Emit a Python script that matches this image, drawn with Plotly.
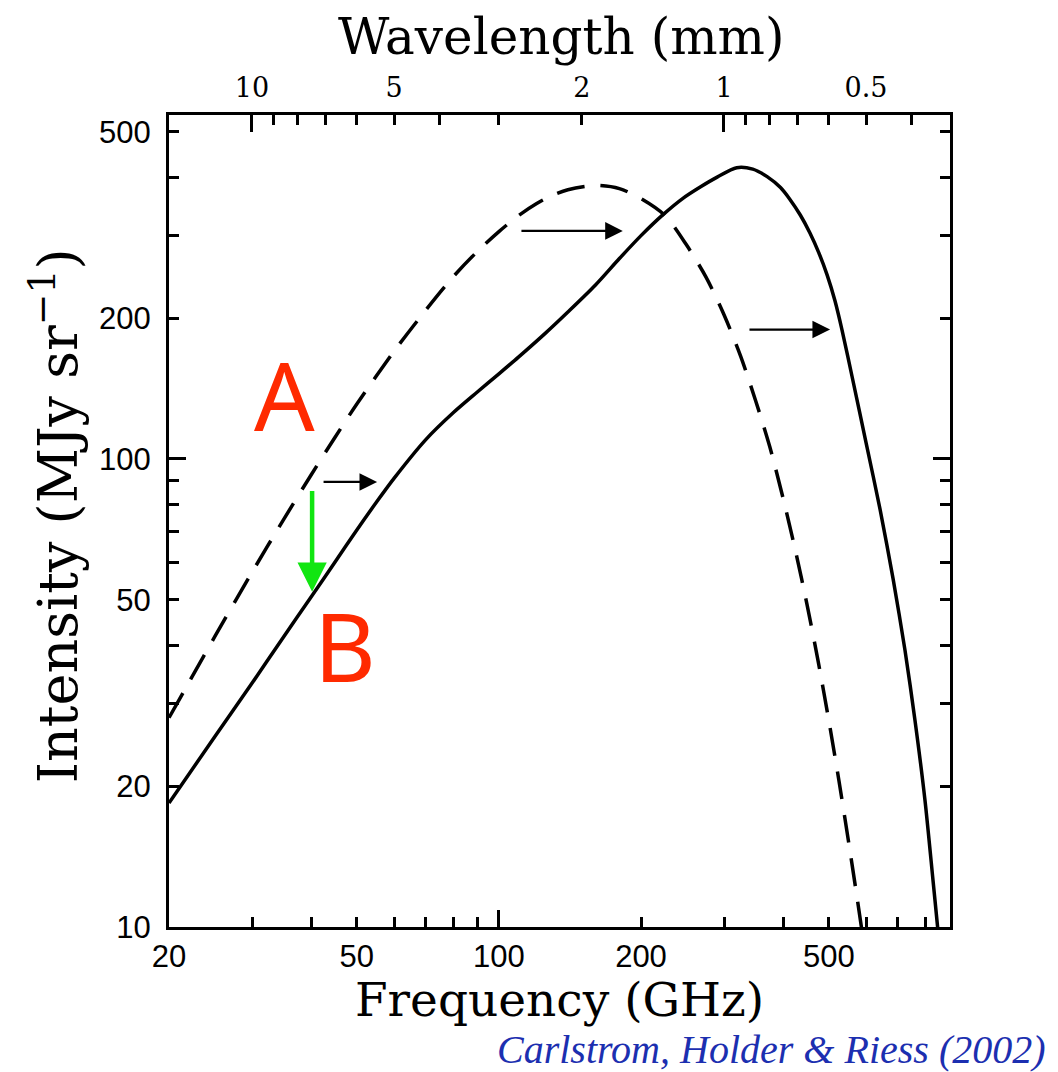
import math
import plotly.graph_objects as go

C_MM_GHZ = 299.792458  # speed of light in mm*GHz, converts wavelength to frequency

# Undistorted CMB spectrum (dashed curve)
freq_cmb = [20, 22, 25, 30, 35, 40, 45, 50, 60, 70, 80, 90, 100, 110, 120, 130, 140,
            160, 180, 200, 225, 250, 275, 300, 325, 350, 375, 400, 425, 450, 475,
            500, 525, 550, 575, 600]
int_cmb = [28, 33.2, 41.7, 57.3, 74.3, 92.4, 111.4, 131, 170, 208, 245, 277.5, 306, 331,
           351, 366, 376, 384, 378, 360, 331, 286, 244, 203, 166, 133, 106, 82.4, 63.6,
           48.6, 36.8, 27.6, 20.6, 15.3, 11.4, 8.5]

# SZ-distorted spectrum (solid curve)
freq_sz = [20, 25, 30, 35, 40, 45, 50, 55, 60, 70, 80, 90, 100, 110, 125, 140, 160, 180,
           200, 223, 245, 267, 290, 319, 345, 370, 395, 414, 435, 456, 476, 496, 515,
           533, 560, 600, 642, 684, 725, 761, 799, 831, 850, 870]
int_sz = [18.4, 25.5, 33.2, 41.7, 50.7, 60.3, 70.5, 80.8, 91, 110, 125.5, 139, 152, 165,
          185, 206, 235, 268, 300, 333, 360, 381, 400, 419, 416, 401, 380, 358, 332, 304,
          276, 247, 218, 189, 150, 108, 78, 55.5, 39, 27.7, 18.7, 12.6, 10, 7.8]

# Axis ticks
freq_ticks = [20, 50, 100, 200, 500]
freq_minor = [30, 40, 60, 70, 80, 90, 300, 400, 600, 700, 800, 900]
freq_major = [100]
int_ticks = [10, 20, 50, 100, 200, 500]
int_minor = [30, 40, 60, 70, 80, 90, 300, 400]
int_major = [100]
wl_ticks = [10, 9, 8, 7, 6, 5, 4, 3, 2, 1, 0.9, 0.8, 0.7, 0.6, 0.5, 0.4]
wl_labels = ["10", "", "", "", "", "5", "", "", "2", "1", "", "", "", "", "0.5", ""]
wl_major = [10, 1]

# Horizontal shift arrows: start frequency, end frequency, intensity
shift_start = [42.2, 110.8, 337]
shift_end = [55.2, 183, 503]
shift_int = [89.3, 307, 189]

# Intensity decrement arrow A -> B
drop_freq = 40.2
drop_from = 86
drop_to = 52
label_a = (35.1, 137.7)
label_b = (47.2, 40.0)

X_RANGE = [math.log10(20), math.log10(903)]
Y_RANGE = [1, math.log10(543)]

TICK_FONT = dict(family="Liberation Sans, Arial, sans-serif", size=31, color="black")
SERIF = "DejaVu Serif, serif"
LINE_W = 3
TICK_W = 2.5

fig = go.Figure()

fig.add_trace(go.Scatter(
    x=freq_cmb, y=int_cmb, mode="lines",
    line=dict(color="black", width=3.5, dash="28px,16px", shape="spline", smoothing=0.8),
    hoverinfo="skip", showlegend=False))
fig.add_trace(go.Scatter(
    x=freq_sz, y=int_sz, mode="lines",
    line=dict(color="black", width=3.5, shape="spline", smoothing=0.8),
    hoverinfo="skip", showlegend=False))

# invisible anchors so the extra tick axes are drawn
for xa, ya in [("x2", "y"), ("x3", "y"), ("x4", "y"), ("x", "y2")]:
    fig.add_trace(go.Scatter(x=[freq_ticks[1]], y=[int_ticks[1]], xaxis=xa, yaxis=ya,
                             mode="markers", marker=dict(opacity=0), hoverinfo="skip",
                             showlegend=False))

common = dict(type="log", showgrid=False, zeroline=False, tickcolor="black",
              tickwidth=TICK_W, ticks="inside")

fig.update_layout(
    width=1058, height=1072,
    margin=dict(l=169, r=108, t=115, b=145),
    paper_bgcolor="white", plot_bgcolor="white",
    xaxis=dict(**common, range=X_RANGE, tickmode="array", tickvals=freq_ticks,
               ticktext=[str(v) for v in freq_ticks], ticklen=10, tickfont=TICK_FONT,
               showline=True, linewidth=LINE_W, linecolor="black", mirror=True,
               minor=dict(tickmode="array", tickvals=freq_minor, ticks="inside",
                          ticklen=10, tickwidth=TICK_W, tickcolor="black", showgrid=False)),
    xaxis2=dict(**common, range=X_RANGE, overlaying="x", side="top", anchor="y",
                tickmode="array", tickvals=[C_MM_GHZ / w for w in wl_ticks],
                ticktext=wl_labels, ticklen=10, ticklabelstandoff=12,
                tickfont=dict(family=SERIF, size=27, color="black"), showline=False),
    xaxis3=dict(**common, range=X_RANGE, overlaying="x", side="top", anchor="y",
                tickmode="array", tickvals=[C_MM_GHZ / w for w in wl_major],
                ticklen=17, showticklabels=False, showline=False),
    xaxis4=dict(**common, range=X_RANGE, overlaying="x", side="bottom", anchor="y",
                tickmode="array", tickvals=freq_major, ticklen=17,
                showticklabels=False, showline=False),
    yaxis=dict(**common, range=Y_RANGE, tickmode="array", tickvals=int_ticks,
               ticktext=[str(v) for v in int_ticks], ticklen=10, tickfont=TICK_FONT,
               ticklabelstandoff=9,
               showline=True, linewidth=LINE_W, linecolor="black", mirror="ticks",
               minor=dict(tickmode="array", tickvals=int_minor, ticks="inside",
                          ticklen=10, tickwidth=TICK_W, tickcolor="black", showgrid=False)),
    yaxis2=dict(**common, range=Y_RANGE, overlaying="y", side="left", anchor="x",
                tickmode="array", tickvals=int_major, ticklen=17,
                showticklabels=False, showline=False, mirror="ticks"),
)

annotations = []
for s, e, i in zip(shift_start, shift_end, shift_int):
    annotations.append(dict(
        x=math.log10(e), y=math.log10(i), ax=math.log10(s), ay=math.log10(i),
        xref="x", yref="y", axref="x", ayref="y", text="", showarrow=True,
        arrowhead=2, arrowsize=1.6, arrowwidth=2.2, arrowcolor="black",
        standoff=0, startstandoff=0))

annotations.append(dict(
    x=math.log10(drop_freq), y=math.log10(drop_to),
    ax=math.log10(drop_freq), ay=math.log10(drop_from),
    xref="x", yref="y", axref="x", ayref="y", text="", showarrow=True,
    arrowhead=2, arrowsize=1.3, arrowwidth=4.5, arrowcolor="#11e611",
    standoff=0, startstandoff=0))

for txt, (fx, iy) in [("A", label_a), ("B", label_b)]:
    annotations.append(dict(
        x=math.log10(fx), y=math.log10(iy), xref="x", yref="y", text=txt,
        showarrow=False, font=dict(family="Noto Sans, sans-serif", size=95, color="#ff2a00")))

annotations += [
    dict(x=0.5006, y=-0.0887, xref="paper", yref="paper", text="Frequency (GHz)",
         showarrow=False, xanchor="center", yanchor="middle",
         font=dict(family=SERIF, size=47, color="black")),
    dict(x=0.503, y=1.096, xref="paper", yref="paper", text="Wavelength (mm)",
         showarrow=False, xanchor="center", yanchor="middle",
         font=dict(family=SERIF, size=50, color="black")),
    dict(x=-0.146, y=0.507, xref="paper", yref="paper",
         text="Intensity (MJy sr<sup>\u22121</sup>)", textangle=-90,
         showarrow=False, xanchor="center", yanchor="middle",
         font=dict(family=SERIF, size=54, color="black")),
    dict(x=1.1255, y=-0.1512, xref="paper", yref="paper",
         text="<i>Carlstrom, Holder &amp; Riess (2002)</i>",
         showarrow=False, xanchor="right", yanchor="middle",
         font=dict(family="Liberation Serif, serif", size=40, color="#1c2fb0")),
]
fig.update_layout(annotations=annotations)

fig.write_html("out.html")
